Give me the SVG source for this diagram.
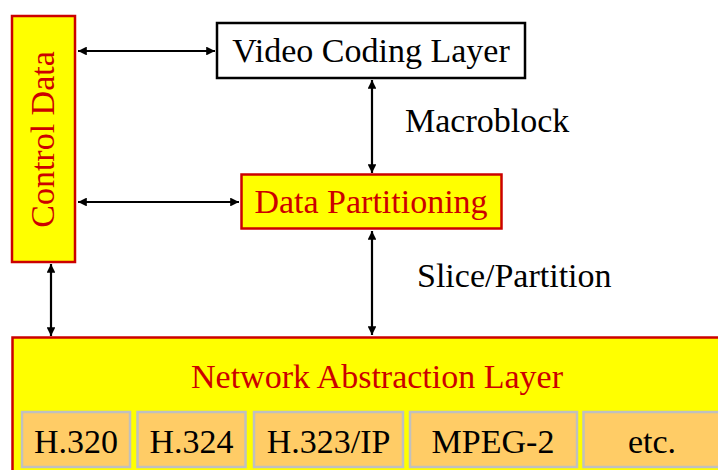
<svg xmlns="http://www.w3.org/2000/svg" width="718" height="470" viewBox="0 0 718 470">
<defs>
<marker id="ah" viewBox="0 0 10 10" refX="10" refY="5" markerWidth="4" markerHeight="4" orient="auto-start-reverse" markerUnits="strokeWidth">
<path d="M0,0 L10,5 L0,10 z" fill="#000"/>
</marker>
</defs>
<style>
text{font-family:"Liberation Serif","Times New Roman",serif;font-size:34px}
.red{fill:#CC0000}
.blk{fill:#000}
.ybox{fill:#FFFF00;stroke:#CC0000;stroke-width:2.5}
.sub{fill:#FFCC66;stroke:#C0C0C0;stroke-width:2.5}
.conn line{stroke:#000;stroke-width:2.2;marker-start:url(#ah);marker-end:url(#ah)}
</style>
<rect width="718" height="470" fill="#fff"/>
<g id="control-data">
<rect class="ybox" x="12" y="16" width="63" height="246"/>
<text class="red" transform="translate(54,139.5) rotate(-90)" text-anchor="middle">Control Data</text>
</g>
<g id="video-coding-layer">
<rect x="217" y="23" width="308" height="55" fill="#fff" stroke="#000" stroke-width="2.5"/>
<text class="blk" x="371" y="62" text-anchor="middle">Video Coding Layer</text>
</g>
<g id="data-partitioning">
<rect class="ybox" x="241.5" y="174.5" width="260" height="54"/>
<text class="red" x="371" y="213" text-anchor="middle">Data Partitioning</text>
</g>
<g id="network-abstraction-layer">
<rect class="ybox" x="12.5" y="337.5" width="720" height="150"/>
<text class="red" x="377" y="388" text-anchor="middle">Network Abstraction Layer</text>
</g>
<g id="h320"><rect class="sub" x="22" y="412" width="108" height="55"/><text class="blk" x="76" y="453" text-anchor="middle">H.320</text></g>
<g id="h324"><rect class="sub" x="137.5" y="412" width="108" height="55"/><text class="blk" x="191.5" y="453" text-anchor="middle">H.324</text></g>
<g id="h323ip"><rect class="sub" x="254" y="412" width="149" height="55"/><text class="blk" x="328.5" y="453" text-anchor="middle">H.323/IP</text></g>
<g id="mpeg2"><rect class="sub" x="410" y="412" width="167" height="55"/><text class="blk" x="493" y="453" text-anchor="middle">MPEG-2</text></g>
<g id="etc"><rect class="sub" x="583.5" y="412" width="138" height="55"/><text class="blk" x="652" y="453" text-anchor="middle">etc.</text></g>
<g id="labels">
<text class="blk" x="405" y="132">Macroblock</text>
<text class="blk" x="417" y="287">Slice/Partition</text>
</g>
<g class="conn" id="connectors">
<line x1="78" y1="51" x2="215" y2="51"/>
<line x1="78" y1="202" x2="239" y2="202"/>
<line x1="372" y1="80" x2="372" y2="173"/>
<line x1="372" y1="231" x2="372" y2="335"/>
<line x1="51" y1="264" x2="51" y2="336"/>
</g>
</svg>
